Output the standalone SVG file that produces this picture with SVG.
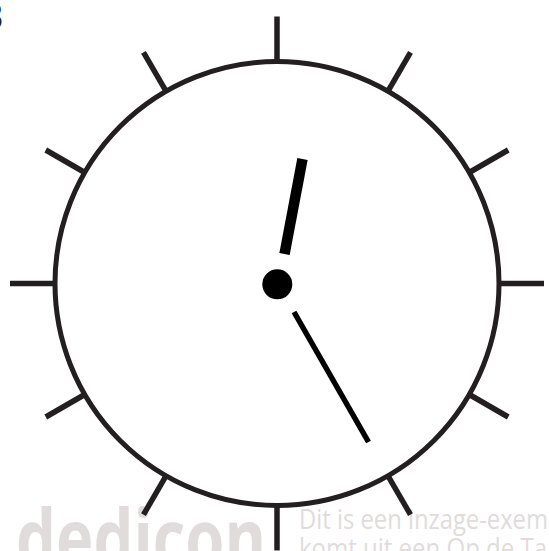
<svg xmlns="http://www.w3.org/2000/svg" width="549" height="551" viewBox="0 0 549 551">
<style>
.tick{stroke:#231f20;stroke-width:5.5;fill:none}
.face{stroke:#231f20;stroke-width:5;fill:#fff}
.wm{fill:#e0dcdb;font-family:"Open Sans","Liberation Sans",sans-serif}
</style>
<rect width="549" height="551" fill="#fff"/>
<text x="3" y="29" text-anchor="end" font-family="Liberation Sans, sans-serif" font-size="36" fill="#231f20">3</text>
<g id="watermark">
<text class="wm" x="16" y="567" font-size="80" font-weight="bold" textLength="250" lengthAdjust="spacingAndGlyphs">dedicon</text>
<text class="wm" x="299" y="529" font-size="27" textLength="249" lengthAdjust="spacingAndGlyphs">Dit is een inzage-exem</text>
<text class="wm" x="299" y="558" font-size="27" textLength="248" lengthAdjust="spacingAndGlyphs">komt uit een Op de Ta</text>
</g>
<g id="clock-face">
<circle class="face" cx="277" cy="283.5" r="222"/>
</g>
<g id="ticks">
<g transform="translate(277 283.5)">
<line class="tick" x1="0" y1="-222" x2="0" y2="-267"/>
<line class="tick" x1="0" y1="-222" x2="0" y2="-267" transform="rotate(30)"/>
<line class="tick" x1="0" y1="-222" x2="0" y2="-267" transform="rotate(60)"/>
<line class="tick" x1="0" y1="-222" x2="0" y2="-267" transform="rotate(90)"/>
<line class="tick" x1="0" y1="-222" x2="0" y2="-267" transform="rotate(120)"/>
<line class="tick" x1="0" y1="-222" x2="0" y2="-267" transform="rotate(150)"/>
<line class="tick" x1="0" y1="-222" x2="0" y2="-267" transform="rotate(180)"/>
<line class="tick" x1="0" y1="-222" x2="0" y2="-267" transform="rotate(210)"/>
<line class="tick" x1="0" y1="-222" x2="0" y2="-267" transform="rotate(240)"/>
<line class="tick" x1="0" y1="-222" x2="0" y2="-267" transform="rotate(270)"/>
<line class="tick" x1="0" y1="-222" x2="0" y2="-267" transform="rotate(300)"/>
<line class="tick" x1="0" y1="-222" x2="0" y2="-267" transform="rotate(330)"/>
</g>
</g>
<g id="hands">
<line id="hour-hand" x1="284.5" y1="254" x2="302.5" y2="159" stroke="#000" stroke-width="10.5"/>
<line id="minute-hand" x1="294" y1="312" x2="368.5" y2="442" stroke="#000" stroke-width="5.5"/>
<circle id="center" cx="277.3" cy="284.3" r="15" fill="#000"/>
</g>
</svg>
